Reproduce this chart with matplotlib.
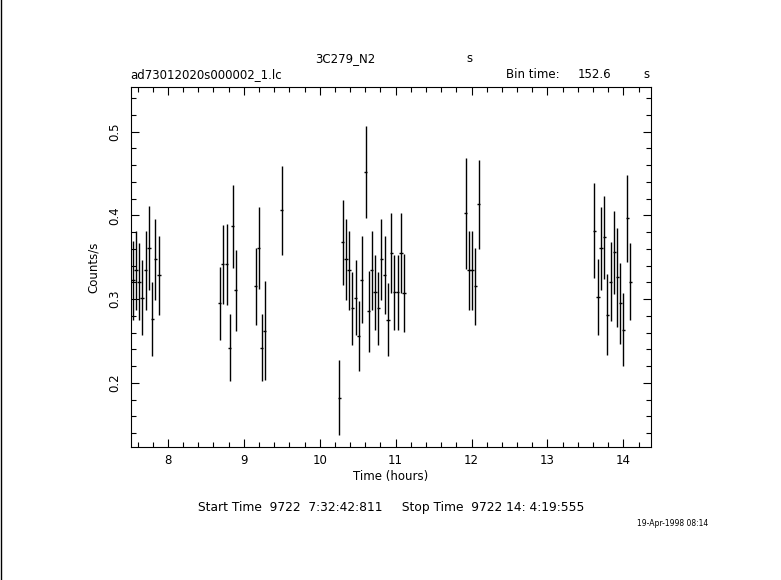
import matplotlib
matplotlib.use("Agg")
import matplotlib.pyplot as plt
from matplotlib.lines import Line2D
from matplotlib.ticker import MultipleLocator

# curva de luz 3C279 (tempo em horas, contagem/s e erro)
tempo = [7.539, 7.579, 7.618, 7.658, 7.707, 7.750, 7.795, 7.834, 7.882,
         8.681, 8.721, 8.774, 8.813, 8.853, 8.892, 9.155, 9.195, 9.234, 9.274, 9.500,
         10.259, 10.303, 10.347, 10.387, 10.430, 10.474, 10.513, 10.553, 10.605, 10.645,
         10.684, 10.729, 10.772, 10.812, 10.855, 10.900, 10.943, 10.983, 11.026, 11.071, 11.110,
         11.921, 11.966, 12.005, 12.049, 12.092,
         13.618, 13.667, 13.707, 13.750, 13.789, 13.834, 13.882, 13.921, 13.961, 14.000,
         14.053, 14.092]
contagem = [0.3225, 0.3346, 0.3211, 0.3020, 0.3346, 0.3609, 0.2761, 0.3474, 0.3287,
            0.2949, 0.3415, 0.3415, 0.2423, 0.3869, 0.3104, 0.3152, 0.3606, 0.2423, 0.2626, 0.4060,
            0.1826, 0.3677, 0.3474, 0.3346, 0.2889, 0.3020, 0.2558, 0.3235, 0.4514, 0.2853,
            0.3346, 0.3080, 0.2889, 0.3474, 0.3287, 0.2757, 0.3546, 0.3080, 0.3080, 0.3546, 0.3072,
            0.4026, 0.3343, 0.3343, 0.3155, 0.4131,
            0.3820, 0.3024, 0.3606, 0.3737, 0.2817, 0.3211, 0.3558, 0.3259, 0.2949, 0.2638,
            0.3964, 0.3211]
erro = [0.047, 0.047, 0.046, 0.045, 0.047, 0.050, 0.044, 0.048, 0.047,
        0.044, 0.047, 0.048, 0.040, 0.050, 0.048, 0.046, 0.049, 0.040, 0.059, 0.053,
        0.0444, 0.0504, 0.0482, 0.0470, 0.0438, 0.0452, 0.0416, 0.0518, 0.0550, 0.0486,
        0.0470, 0.0452, 0.0438, 0.0482, 0.0466, 0.0434, 0.0478, 0.0452, 0.0452, 0.0478, 0.0462,
        0.0665, 0.0470, 0.0470, 0.0458, 0.0528,
        0.0565, 0.0454, 0.0494, 0.0494, 0.0488, 0.0466, 0.0494, 0.0590, 0.0482, 0.0434,
        0.0524, 0.0464]
meio_bin = 152.6 / 3600.0 / 2  # metade do bin em horas

fig = plt.figure(figsize=(7.81, 5.80), dpi=100)
ax = fig.add_axes([0.1673, 0.2293, 0.6662, 0.6202])

ax.errorbar(tempo, contagem, yerr=erro, xerr=meio_bin, fmt="none",
            ecolor="black", elinewidth=1.0, capsize=0)

ax.set_xlim(7.509, 14.364)
ax.set_ylim(0.1235, 0.553)
ax.xaxis.set_major_locator(MultipleLocator(1))
ax.xaxis.set_minor_locator(MultipleLocator(0.2))
ax.yaxis.set_major_locator(MultipleLocator(0.1))
ax.yaxis.set_minor_locator(MultipleLocator(0.02))
ax.tick_params(which="both", direction="in", top=True, right=True, width=0.8)
ax.tick_params(which="major", length=6, labelsize=8.5)
ax.tick_params(which="minor", length=3.5)
ax.tick_params(axis="x", pad=5)
ax.tick_params(axis="y", pad=7)
for lab in ax.get_yticklabels():
    lab.set_rotation(90)
    lab.set_va("center")
for s in ax.spines.values():
    s.set_linewidth(0.8)

ax.set_xlabel("Time (hours)", fontsize=8.5, labelpad=2)
ax.set_ylabel("Counts/s", fontsize=8.5, labelpad=6)

# textos em volta do grafico
fig.text(345 / 781, 1 - 59 / 580, "3C279_N2", fontsize=8.5, ha="center", va="center")
fig.text(469 / 781, 1 - 59 / 580, "s", fontsize=8.5, ha="center", va="center")
fig.text(130 / 781, 1 - 75 / 580, "ad73012020s000002_1.lc", fontsize=8.5, ha="left", va="center")
fig.text(506 / 781, 1 - 75 / 580, "Bin time:", fontsize=8.5, ha="left", va="center")
fig.text(594 / 781, 1 - 75 / 580, "152.6", fontsize=8.5, ha="center", va="center")
fig.text(646 / 781, 1 - 75 / 580, "s", fontsize=8.5, ha="center", va="center")
fig.text(391 / 781, 1 - 508 / 580,
         "Start Time  9722  7:32:42:811     Stop Time  9722 14: 4:19:555",
         fontsize=8.8, ha="center", va="center")
fig.text(673 / 781, 1 - 523 / 580, "19-Apr-1998 08:14", fontsize=5.5, ha="center", va="center")

# linha da borda esquerda
fig.add_artist(Line2D([0.0015, 0.0015], [0, 1], color="black", linewidth=1.0))

fig.savefig("out.png", dpi=100)
